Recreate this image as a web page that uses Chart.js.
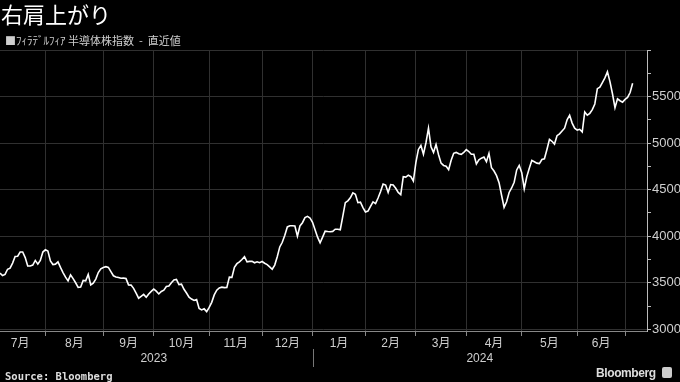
<!DOCTYPE html>
<html><head><meta charset="utf-8">
<script src="https://cdn.jsdelivr.net/npm/chart.js@4"></script>
<style>
html,body{margin:0;padding:0;background:#000;width:680px;height:382px;overflow:hidden;}
#wrap{position:relative;width:680px;height:382px;}
canvas{position:absolute;left:0;top:0;}
.t{position:absolute;font-family:"Noto Sans CJK JP","Noto Sans",sans-serif;color:#fff;white-space:pre;line-height:1;}
</style></head><body>
<div id="wrap">
<canvas id="c" width="680" height="382"></canvas>
<div class="t" style="left:1px;top:2px;font-size:22px;">右肩上がり</div>
<div class="t" style="left:5px;top:35px;font-size:11px;color:#cfcfcf;">■ﾌｨﾗﾃﾞﾙﾌｨｱ 半導体株指数  -  直近値</div>
<div class="t" style="left:5px;top:371px;font-size:10.5px;font-weight:bold;font-family:'DejaVu Sans Mono',monospace;color:#ddd;">Source: Bloomberg</div>
<div class="t" style="left:596px;top:367px;font-size:12px;font-weight:bold;font-family:'Liberation Sans',sans-serif;color:#ddd;letter-spacing:-0.4px;">Bloomberg</div>
<div style="position:absolute;left:662px;top:367px;width:10px;height:11px;background:#ccc;border-radius:2px;"></div>
</div>
<script>
const values = [
3603,3578,3590,3645,3657,3711,3782,3785,3830,3830,
3770,3680,3680,3690,3740,3700,3740,3830,3854,3840,
3735,3696,3700,3725,3665,3610,3560,3520,3585,3545,
3500,3450,3455,3525,3520,3590,3477,3495,3540,3610,
3650,3664,3673,3665,3620,3575,3563,3556,3548,3550,
3545,3477,3475,3440,3388,3334,3355,3375,3345,3380,
3408,3432,3410,3380,3407,3420,3459,3465,3500,3530,
3535,3480,3485,3430,3390,3345,3325,3310,3320,3225,
3208,3220,3190,3235,3290,3370,3420,3445,3453,3448,
3450,3560,3558,3665,3705,3725,3750,3780,3725,3730,
3730,3715,3725,3715,3728,3710,3695,3670,3645,3690,
3780,3885,3935,4010,4100,4112,4112,4110,4000,4110,
4145,4200,4213,4196,4150,4070,3990,3930,3990,4055,
4050,4048,4052,4075,4075,4070,4213,4360,4380,4412,
4466,4450,4360,4365,4308,4261,4270,4320,4368,4350,
4410,4480,4560,4550,4470,4555,4550,4515,4470,4447,
4640,4635,4655,4640,4592,4790,4932,4975,4880,5004,
5160,4960,4900,4986,4875,4785,4760,4752,4715,4815,
4890,4900,4885,4880,4900,4930,4910,4880,4880,4775,
4820,4838,4850,4800,4890,4735,4700,4650,4575,4440,
4310,4370,4470,4518,4580,4712,4760,4682,4510,4638,
4730,4814,4800,4785,4780,4824,4832,4932,5040,5020,
4990,5080,5100,5130,5160,5250,5300,5215,5160,5140,
5148,5119,5334,5300,5320,5360,5420,5585,5600,5650,
5700,5765,5660,5530,5380,5475,5455,5440,5470,5490,
5543,5643
];
// trading-day index of the first session of each month (Aug 2023 .. Jul 2024)
const monthStarts = [18,41,61,83,104,124,145,165,185,207,229,248];
const monthLabels = ['7月','8月','9月','10月','11月','12月','1月','2月','3月','4月','5月','6月'];
const periodStart = -2;   // first session of July 2023
const axisEnd = 256.7;
const yearLabels = ['2023','2024'];
const yearBreak = 124;
const yTickValues = [3000,3250,3500,3750,4000,4250,4500,4750,5000,5250,5500,5750,6000];
const yMin = 2982, yMax = 6000;

const bounds = [periodStart].concat(monthStarts);
const monthCenters = monthLabels.map((_, i) => (bounds[i] + bounds[i + 1]) / 2);
const yearCenters = [(periodStart + yearBreak) / 2, (yearBreak + axisEnd) / 2];

const labelFont = {family: "'Liberation Sans','Noto Sans CJK JP',sans-serif", size: 12};

const dividerPlugin = {
  id: 'divider',
  afterDraw(chart) {
    const sx = chart.scales.x, sy = chart.scales.xy;
    const px = Math.round(sx.getPixelForValue(yearBreak)) + 0.5;
    const ctx = chart.ctx;
    ctx.save();
    ctx.strokeStyle = '#777';
    ctx.lineWidth = 1;
    ctx.beginPath();
    ctx.moveTo(px, sy.top - 1);
    ctx.lineTo(px, sy.bottom - 1);
    ctx.stroke();
    ctx.restore();
  }
};

new Chart(document.getElementById('c'), {
  type: 'line',
  data: {
    datasets: [{
      data: values.map((v, i) => ({x: i, y: v})),
      borderColor: '#ffffff',
      borderWidth: 1.6,
      pointRadius: 0,
      tension: 0,
      fill: false
    }]
  },
  options: {
    responsive: false,
    animation: false,
    layout: {padding: {top: 50, bottom: 14, left: 0, right: 0}},
    plugins: {legend: {display: false}, tooltip: {enabled: false}},
    scales: {
      x: {
        type: 'linear', position: 'bottom', min: 0, max: axisEnd, weight: 0,
        afterBuildTicks: s => { s.ticks = monthStarts.map(v => ({value: v})); },
        afterFit: s => { s.height = 5; },
        grid: {color: '#303030', tickColor: '#888', tickLength: 5, drawTicks: true},
        border: {display: true, color: '#888'},
        ticks: {display: false}
      },
      xm: {
        type: 'linear', position: 'bottom', min: 0, max: axisEnd, weight: 1,
        afterBuildTicks: s => { s.ticks = monthCenters.map(v => ({value: v})); },
        afterFit: s => { s.height = 14; },
        grid: {display: false, drawTicks: false},
        border: {display: false},
        ticks: {autoSkip: false, maxRotation: 0, padding: 0, color: '#cfcfcf', font: labelFont,
          callback: (v, i) => monthLabels[i]}
      },
      xy: {
        type: 'linear', position: 'bottom', min: 0, max: axisEnd, weight: 2,
        afterBuildTicks: s => { s.ticks = yearCenters.map(v => ({value: v})); },
        afterFit: s => { s.height = 18; },
        grid: {display: false, drawTicks: false},
        border: {display: false},
        ticks: {autoSkip: false, maxRotation: 0, padding: 1, color: '#cfcfcf', font: labelFont,
          callback: (v, i) => yearLabels[i]}
      },
      y: {
        type: 'linear', position: 'right', min: yMin, max: yMax,
        afterBuildTicks: s => { s.ticks = yTickValues.map(v => ({value: v})); },
        afterFit: s => { s.width = 33; },
        grid: {
          color: c => (c.tick && c.tick.value % 500 === 0) ? '#303030' : 'rgba(0,0,0,0)',
          tickColor: '#bbb', tickLength: 4
        },
        border: {display: true, color: '#bbb'},
        ticks: {autoSkip: false, padding: 1, color: '#cfcfcf',
          font: {family: "'Liberation Sans',sans-serif", size: 13},
          callback: v => (v % 500 === 0 && v < 6000) ? String(v) : ''}
      }
    }
  },
  plugins: [dividerPlugin]
});
</script>
</body></html>
